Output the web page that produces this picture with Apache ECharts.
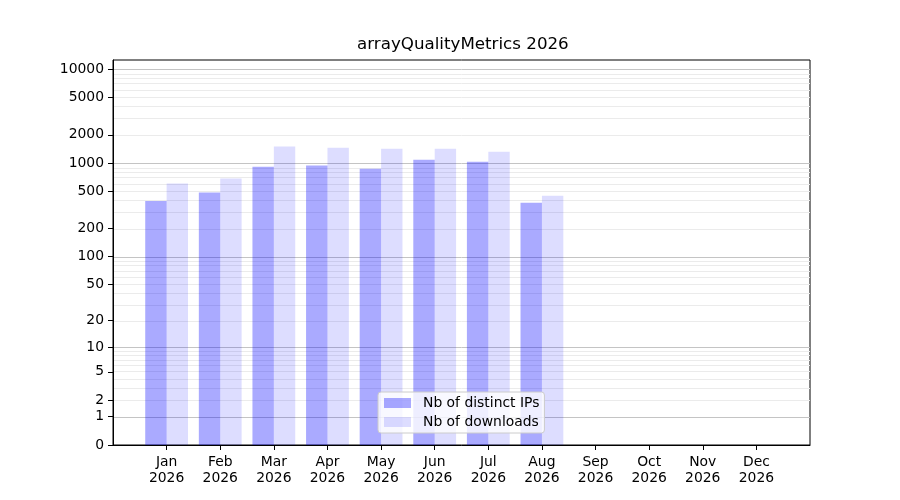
<!DOCTYPE html>
<html>
<head>
<meta charset="utf-8">
<script src="https://cdn.jsdelivr.net/npm/echarts@6/dist/echarts.min.js"></script>
<style>
html,body{margin:0;padding:0;background:#fff;}
#c{width:900px;height:500px;}
</style>
</head>
<body>
<div id="c"></div>
<script>
// ---- data ----
const titleText = 'arrayQualityMetrics 2026';
const months = ['Jan', 'Feb', 'Mar', 'Apr', 'May', 'Jun', 'Jul', 'Aug', 'Sep', 'Oct', 'Nov', 'Dec'];
const yearLabel = '2026';
const seriesNames = ['Nb of distinct IPs', 'Nb of downloads'];
const distinctIPs = [395, 486, 913, 943, 869, 1084, 1032, 377, null, null, null, null];
const downloads = [606, 685, 1502, 1455, 1419, 1419, 1319, 448, null, null, null, null];
const yTickValues = [0, 1, 2, 5, 10, 20, 50, 100, 200, 500, 1000, 2000, 5000, 10000];
const majorGrid = [1, 10, 100, 1000, 10000];
const minorGridMult = [2, 3, 4, 5, 6, 7, 8, 9];
const minorGridDecades = [1, 10, 100, 1000];
const yMaxValue = 12500;

// ---- scale: log10(1 + x) ----
const tf = v => Math.log10(1 + v);
const inv = t => Math.round(Math.pow(10, t) - 1);

// category axis padded with an empty slot on both sides
const cats = [''].concat(months.map(m => m + '\n' + yearLabel)).concat(['']);
const pad = arr => [null].concat(arr.map(v => v == null ? null : tf(v))).concat([null]);

const gridLines = [];
minorGridDecades.forEach(d => minorGridMult.forEach(m => gridLines.push({ yAxis: tf(d * m), lineStyle: { color: '#ebebeb', width: 1, type: 'solid' } })));
majorGrid.forEach(v => gridLines.push({ yAxis: tf(v), lineStyle: { color: '#c4c4c4', width: 1, type: 'solid' } }));

const font = 'DejaVu Sans';
const chart = echarts.init(document.getElementById('c'), null, { renderer: 'canvas' });
chart.setOption({
  animation: false,
  backgroundColor: '#fff',
  title: {
    text: titleText,
    left: 357, top: 36, padding: 0,
    textStyle: { fontFamily: font, fontSize: 16.7, fontWeight: 'normal', color: '#000' }
  },
  grid: {
    left: 113, right: 90, top: 60, bottom: 55,
    show: true, borderColor: '#000', borderWidth: 1, backgroundColor: 'transparent'
  },
  legend: {
    orient: 'vertical',
    left: 378, top: 392,
    padding: [4, 5, 4, 6],
    itemGap: 5,
    itemWidth: 27, itemHeight: 10,
    icon: 'rect',
    backgroundColor: 'rgba(255,255,255,0.8)',
    borderColor: '#cccccc', borderWidth: 1, borderRadius: 3,
    textStyle: { fontFamily: font, fontSize: 13.9, color: '#000', padding: [0, 0, 0, 7] },
    data: seriesNames
  },
  xAxis: {
    type: 'category',
    data: cats,
    boundaryGap: false,
    axisLine: { show: true, lineStyle: { color: '#000', width: 1 } },
    axisTick: { show: true, length: 5, interval: (i) => i > 0 && i < cats.length - 1, lineStyle: { color: '#000' } },
    axisLabel: { interval: 0, margin: 9, color: '#000', fontFamily: font, fontSize: 13.9, lineHeight: 16 },
    splitLine: { show: false }
  },
  yAxis: {
    type: 'value',
    min: 0, max: tf(yMaxValue),
    axisLine: { show: true, lineStyle: { color: '#000', width: 1 } },
    axisTick: { show: true, length: 5, customValues: yTickValues.map(tf), lineStyle: { color: '#000' } },
    axisLabel: {
      customValues: yTickValues.map(tf),
      formatter: v => String(inv(v)),
      margin: 9, color: '#000', fontFamily: font, fontSize: 13.9
    },
    splitLine: { show: false }
  },
  series: [
    {
      name: 'grid', type: 'line', data: [], z: 0,
      markLine: { silent: true, symbol: 'none', label: { show: false }, data: gridLines, animation: false, z: 0 }
    },
    {
      name: seriesNames[0], type: 'bar', data: pad(distinctIPs), z: 3,
      barWidth: 21.4, barGap: '0%',
      itemStyle: { color: 'rgba(0,0,255,0.333)' }
    },
    {
      name: seriesNames[1], type: 'bar', data: pad(downloads), z: 3,
      barWidth: 21.4, barGap: '0%',
      itemStyle: { color: 'rgba(0,0,255,0.133)' }
    }
  ]
});
</script>
</body>
</html>
